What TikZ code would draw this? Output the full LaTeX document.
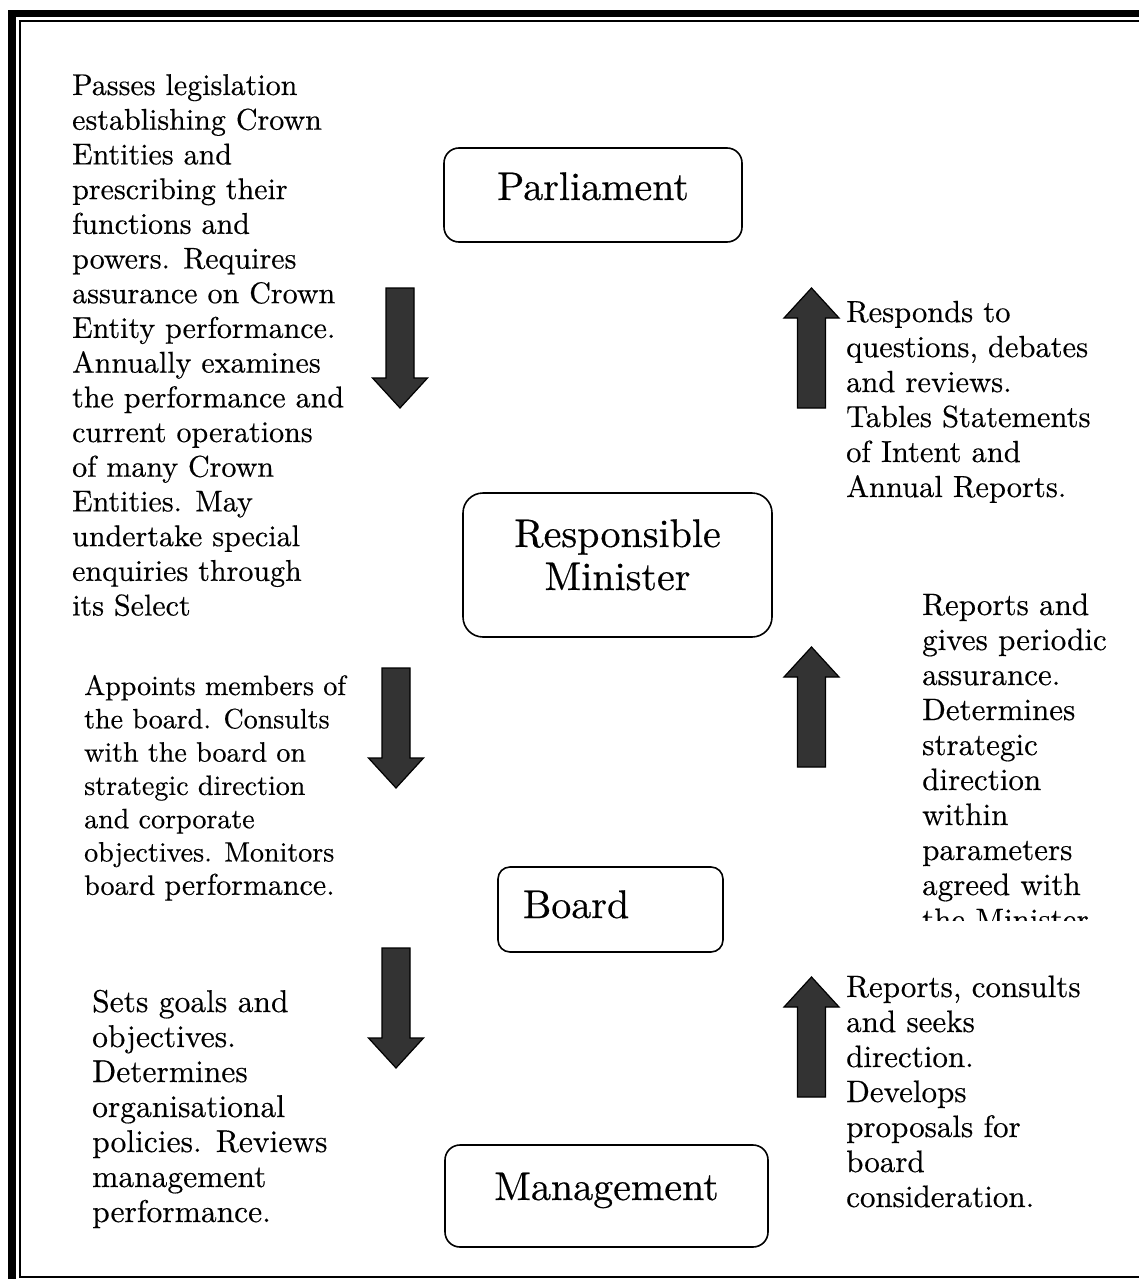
\documentclass[tikz,border=0pt]{standalone}
\usepackage{fontspec}
\setmainfont{lmroman10-regular.otf}[FakeBold=0.4]
\begin{document}
\begin{tikzpicture}[x=1pt,y=-1pt,
  box/.style={draw, line width=1.6, rounded corners=15, inner sep=0, font=\fontsize{40}{43}\selectfont},
  body/.style={inner sep=0, anchor=base west},
  arrowbody/.style={fill=black!80, draw=black, line width=1.2, line join=miter},
  pics/dnarrow/.style={code={\filldraw[arrowbody] (-14,0) -- (14,0) -- (14,90) -- (27.5,90) -- (0,120) -- (-27.5,90) -- (-14,90) -- cycle;}},
  pics/uparrowshape/.style={code={\filldraw[arrowbody] (-14,120) -- (14,120) -- (14,30) -- (27.5,30) -- (0,0) -- (-27.5,30) -- (-14,30) -- cycle;}}
]
\useasboundingbox (0,0) rectangle (1139,1279);
\clip (0,0) rectangle (1139,1279);
\fill[white] (0,0) rectangle (1139,1279);
% frame
\draw[line width=7.5] (12,13.5) rectangle (1170,1310);
\draw[line width=2] (19.5,21) rectangle (1160,1277);

% boxes
\node[box, minimum width=298, minimum height=94, text height=26, text depth=16] (parl) at (593,195) {Parliament};
\node[box, rounded corners=20, minimum width=309, minimum height=144, text height=10, text depth=46] (min) at (617.5,565) {\parbox[t]{300pt}{\centering Responsible\\Minister}};
\node[box, rounded corners=12, minimum width=225, minimum height=85, text width=175, align=left, inner xsep=25, text height=26, text depth=9] (board) at (610.5,909.5) {Board};
\node[box, minimum width=323, minimum height=102, text height=26, text depth=18] (mgmt) at (606.5,1196) {Management};

% arrows
\pic at (400,288) {dnarrow};
\pic at (396,668) {dnarrow};
\pic at (396,948) {dnarrow};
\pic at (811.5,288) {uparrowshape};
\pic at (811.5,647) {uparrowshape};
\pic at (811.5,977) {uparrowshape};

% texts
\node[body, font=\fontsize{30}{34.7}\selectfont] (tl) at (72,95) {\parbox[t]{330pt}{\raggedright Passes legislation\\establishing Crown\\Entities and\\prescribing their\\functions and\\powers.  Requires\\assurance on Crown\\Entity performance.\\Annually examines\\the performance and\\current operations\\of many Crown\\Entities.  May\\undertake special\\enquiries through\\its Select}};

\node[body, font=\fontsize{30.5}{35}\selectfont] (tr) at (846,322) {\parbox[t]{300pt}{\raggedright Responds to\\questions, debates\\and reviews.\\Tables Statements\\of Intent and\\Annual Reports.}};

\node[body, font=\fontsize{28}{33.3}\selectfont] (ml) at (84,695) {\parbox[t]{330pt}{\raggedright Appoints members of\\the board.  Consults\\with the board on\\strategic direction\\and corporate\\objectives.  Monitors\\board {\fontsize{30}{33.3}\selectfont performance.}}};

\begin{scope}
\clip (900,580) rectangle (1139,920);
\node[body, font=\fontsize{31}{35}\selectfont] (mr) at (922,615) {\parbox[t]{300pt}{\raggedright Reports and\\gives periodic\\assurance.\\Determines\\strategic\\direction\\within\\parameters\\agreed with\\the Minister.}};
\end{scope}

\node[body, font=\fontsize{31.5}{35}\selectfont] (bl) at (92,1012) {\parbox[t]{300pt}{\raggedright Sets goals and\\objectives.\\Determines\\organisational\\policies.  Reviews\\management\\performance.}};

\node[body, font=\fontsize{31}{35}\selectfont] (br) at (846,997) {\parbox[t]{300pt}{\raggedright Reports, consults\\and seeks\\direction.\\Develops\\proposals for\\board\\consideration.}};
\end{tikzpicture}
\end{document}
